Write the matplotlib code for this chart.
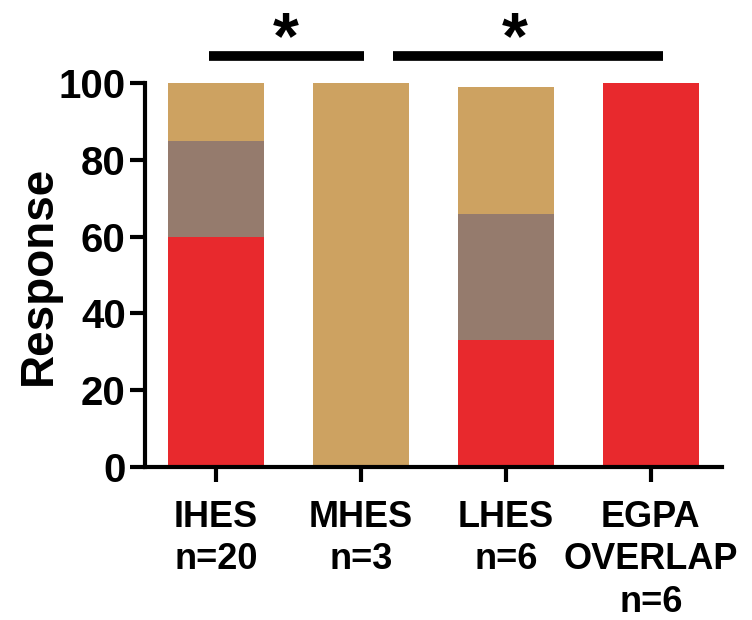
import matplotlib.pyplot as plt
import numpy as np

groups = ["IHES\nn=20", "MHES\nn=3", "LHES\nn=6", "EGPA\nOVERLAP\nn=6"]
red_vals = [60, 0, 33, 100]
brown_vals = [25, 0, 33, 0]
tan_vals = [15, 100, 33, 0]

plt.rcParams["font.family"] = ["Liberation Sans", "DejaVu Sans"]
plt.rcParams["font.weight"] = "bold"

fig = plt.figure(figsize=(7.52, 6.2), dpi=100)
ax = fig.add_axes([0.193, 0.247, 0.767, 0.619])

x = np.arange(len(groups))
w = 0.66
red = np.array(red_vals)
brown = np.array(brown_vals)
tan = np.array(tan_vals)
ax.bar(x, red, w, color="#E8292D")
ax.bar(x, brown, w, bottom=red, color="#957B6D")
ax.bar(x, tan, w, bottom=red + brown, color="#CDA261")

ax.set_xlim(-0.49, 3.49)
ax.set_ylim(0, 100)
ax.set_yticks([0, 20, 40, 60, 80, 100])
ax.set_xticks(x)
ax.set_xticklabels(groups, fontsize=26, fontweight="bold", linespacing=1.27)
ax.tick_params(axis="y", labelsize=29, width=3, length=11, pad=3)
ax.tick_params(axis="x", width=3, length=11, pad=13)
for lab in ax.get_yticklabels():
    lab.set_fontweight("bold")
ax.set_ylabel("Response", fontsize=33, fontweight="bold", labelpad=-2)

for s in ["top", "right"]:
    ax.spines[s].set_visible(False)
for s in ["left", "bottom"]:
    ax.spines[s].set_linewidth(3)

# significance bars
ax.plot([-0.05, 1.02], [107, 107], color="black", lw=7, clip_on=False, solid_capstyle="butt")
ax.plot([1.22, 3.08], [107, 107], color="black", lw=7, clip_on=False, solid_capstyle="butt")
ax.text(0.48, 106.5, "*", fontsize=48, fontweight="bold", ha="center", va="baseline")
ax.text(2.06, 106.5, "*", fontsize=48, fontweight="bold", ha="center", va="baseline")

fig.savefig("out.png", dpi=100)
